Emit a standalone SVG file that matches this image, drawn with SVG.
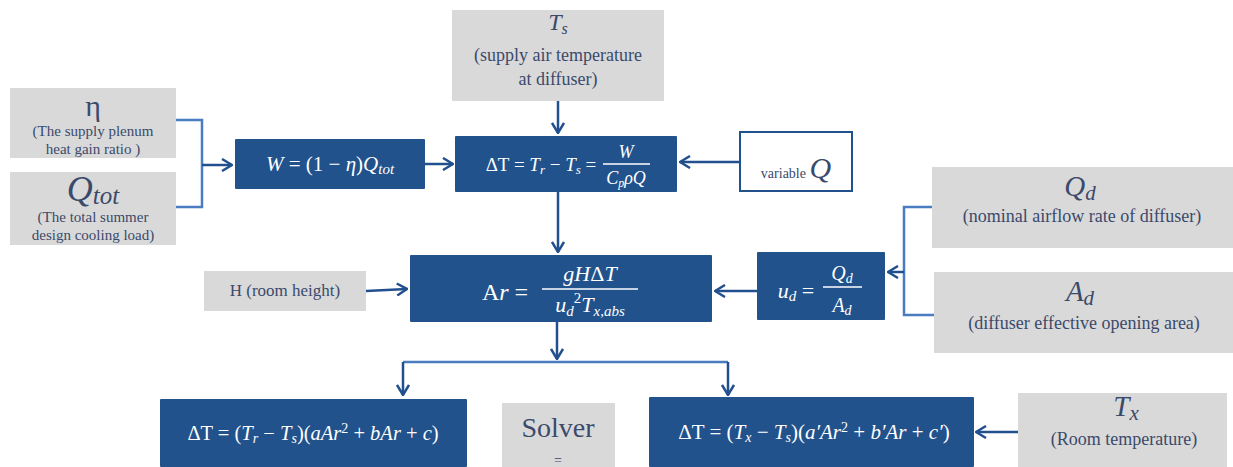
<svg xmlns="http://www.w3.org/2000/svg" width="1233" height="467" viewBox="0 0 1233 467">
<style>
.g{fill:#d9d9d9}
.b{fill:#21528c}
.gt{font-family:'Liberation Serif','Times New Roman','DejaVu Serif',serif;fill:#3b4a6b;text-anchor:middle}
.wt{font-family:'Liberation Serif','Times New Roman','DejaVu Serif',serif;fill:#ffffff;text-anchor:middle}
.i{font-style:italic}
.arr{stroke:#22508f;stroke-width:2.5;fill:none;marker-end:url(#ah)}
.brk{stroke:#4a7cc0;stroke-width:2.5;fill:none}
.fl{stroke:#ffffff;stroke-width:1.3}
</style>
<defs>
<marker id="ah" viewBox="0 0 12 14" refX="11" refY="7" markerWidth="12" markerHeight="14" markerUnits="userSpaceOnUse" orient="auto">
<path d="M1,1 L11,7 L1,13" fill="none" stroke="#22508f" stroke-width="2.5"/>
</marker>
</defs>
<rect width="1233" height="467" fill="#ffffff"/>

<g id="connectors">
<path class="brk" d="M176,120 H202 V207 H176"/>
<path class="arr" d="M202,165 H232"/>
<path class="arr" d="M425,164 H453"/>
<path class="arr" d="M558,101 V133"/>
<path class="arr" d="M739,162 H680"/>
<path class="arr" d="M558,192 V252"/>
<path class="arr" d="M366,291 L407,289"/>
<path class="arr" d="M757,291 H715"/>
<path class="brk" d="M932,207 H904 V315 H934"/>
<path class="arr" d="M904,272 H888"/>
<path class="arr" d="M557,322 V359"/>
<path class="brk" d="M403,362 H728"/>
<path class="arr" d="M403,362 V395"/>
<path class="arr" d="M728,362 V395"/>
<path class="arr" d="M1018,432 H976"/>
</g>

<g id="eta">
<rect class="g" x="10" y="88" width="166" height="70"/>
<text class="gt" x="93" y="116" font-size="30">η</text>
<text class="gt" x="93" y="136" font-size="15">(The supply plenum</text>
<text class="gt" x="93" y="154" font-size="15">heat gain ratio )</text>
</g>

<g id="qtot">
<rect class="g" x="10" y="172" width="166" height="73"/>
<text class="gt i" x="93" y="201" font-size="36">Q<tspan font-size="25" dy="3">tot</tspan></text>
<text class="gt" x="93" y="222" font-size="15">(The total summer</text>
<text class="gt" x="93" y="240" font-size="15">design cooling load)</text>
</g>

<g id="w">
<rect class="b" x="235" y="139" width="190" height="50" rx="1"/>
<text class="wt" x="330" y="171" font-size="21"><tspan class="i">W</tspan> = (1 − <tspan class="i">η</tspan>)<tspan class="i">Q</tspan><tspan class="i" font-size="15" dy="3">tot</tspan></text>
</g>

<g id="ts">
<rect class="g" x="452" y="10" width="212" height="91"/>
<text class="gt i" x="558" y="30" font-size="24">T<tspan font-size="16" dy="4">s</tspan></text>
<text class="gt" x="558" y="61" font-size="18">(supply air temperature</text>
<text class="gt" x="558" y="85" font-size="18">at diffuser)</text>
</g>

<g id="dt">
<rect class="b" x="455" y="136" width="222" height="56" rx="1"/>
<text class="wt" x="541" y="171" font-size="19">ΔT = <tspan class="i">T</tspan><tspan class="i" font-size="13" dy="3">r</tspan><tspan dy="-3"> − </tspan><tspan class="i">T</tspan><tspan class="i" font-size="13" dy="3">s</tspan><tspan dy="-3"> =</tspan></text>
<text class="wt i" x="626" y="158" font-size="18">W</text>
<line class="fl" x1="603" y1="164" x2="650" y2="164"/>
<text class="wt i" x="626" y="184" font-size="18">C<tspan font-size="12" dy="3">p</tspan><tspan dy="-3">ρQ</tspan></text>
</g>

<g id="varq">
<rect x="740" y="132" width="112" height="59" fill="#ffffff" stroke="#21528c" stroke-width="2"/>
<text class="gt" x="796" y="178" font-size="14">variable <tspan class="i" font-size="30">Q</tspan></text>
</g>

<g id="qd">
<rect class="g" x="932" y="167" width="301" height="81"/>
<text class="gt i" x="1080" y="196" font-size="29">Q<tspan font-size="21" dy="4">d</tspan></text>
<text class="gt" x="1082" y="222" font-size="18">(nominal airflow rate of diffuser)</text>
</g>

<g id="ad">
<rect class="g" x="934" y="272" width="299" height="81"/>
<text class="gt i" x="1080" y="301" font-size="29">A<tspan font-size="21" dy="4">d</tspan></text>
<text class="gt" x="1084" y="329" font-size="18">(diffuser effective opening area)</text>
</g>

<g id="ud">
<rect class="b" x="757" y="252" width="128" height="68" rx="1"/>
<text class="wt" x="796" y="298" font-size="22"><tspan class="i">u</tspan><tspan class="i" font-size="15" dy="3">d</tspan><tspan dy="-3"> =</tspan></text>
<text class="wt i" x="842" y="280" font-size="20">Q<tspan font-size="14" dy="3">d</tspan></text>
<line class="fl" x1="823" y1="287" x2="862" y2="287"/>
<text class="wt i" x="842" y="312" font-size="20">A<tspan font-size="14" dy="3">d</tspan></text>
</g>

<g id="h">
<rect class="g" x="204" y="271" width="162" height="40"/>
<text class="gt" x="285" y="296" font-size="17">H (room height)</text>
</g>

<g id="ar">
<rect class="b" x="410" y="255" width="302" height="67" rx="1"/>
<text class="wt" x="505" y="300" font-size="24">A<tspan class="i">r</tspan> =</text>
<text class="wt i" x="590" y="281" font-size="22">gH<tspan font-style="normal">Δ</tspan>T</text>
<line class="fl" x1="542" y1="289" x2="638" y2="289"/>
<text class="wt i" x="590" y="312" font-size="22">u<tspan font-size="15" dy="4">d</tspan><tspan font-size="15" font-style="normal" dy="-13">2</tspan><tspan dy="9">T</tspan><tspan font-size="15" dy="4">x,abs</tspan></text>
</g>

<g id="eq1">
<rect class="b" x="160" y="399" width="307" height="68" rx="1"/>
<text class="wt" x="313" y="440" font-size="20.5">ΔT = (<tspan class="i">T</tspan><tspan class="i" font-size="14" dy="3">r</tspan><tspan dy="-3"> − </tspan><tspan class="i">T</tspan><tspan class="i" font-size="14" dy="3">s</tspan><tspan dy="-3">)(</tspan><tspan class="i">aAr</tspan><tspan font-size="14" dy="-7">2</tspan><tspan dy="7"> + </tspan><tspan class="i">bAr</tspan> + <tspan class="i">c</tspan>)</text>
</g>

<g id="solver">
<rect class="g" x="502" y="403" width="113" height="64"/>
<text class="gt" x="558" y="437" font-size="28">Solver</text>
<text class="gt" x="558" y="465" font-size="14">=</text>
</g>

<g id="eq2">
<rect class="b" x="649" y="397" width="325" height="70" rx="1"/>
<text class="wt" x="814" y="439" font-size="21">ΔT = (<tspan class="i">T</tspan><tspan class="i" font-size="14" dy="3">x</tspan><tspan dy="-3"> − </tspan><tspan class="i">T</tspan><tspan class="i" font-size="14" dy="3">s</tspan><tspan dy="-3">)(</tspan><tspan class="i">a′Ar</tspan><tspan font-size="14" dy="-7">2</tspan><tspan dy="7"> + </tspan><tspan class="i">b′Ar</tspan> + <tspan class="i">c′</tspan>)</text>
</g>

<g id="tx">
<rect class="g" x="1018" y="393" width="209" height="74"/>
<text class="gt i" x="1126" y="416" font-size="29">T<tspan font-size="21" dy="4">x</tspan></text>
<text class="gt" x="1124" y="445" font-size="18">(Room temperature)</text>
</g>
</svg>
